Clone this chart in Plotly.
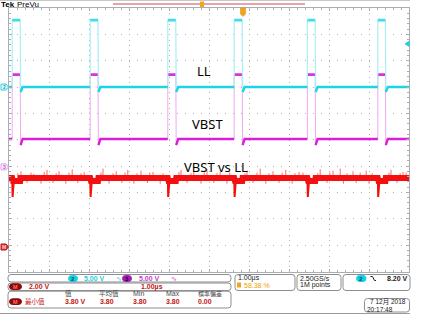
import plotly.graph_objects as go

W, H = 431, 331

pulse_start_us = [0.08, 2.03, 3.97, 5.63, 7.46, 9.22]
pulse_width_us = [0.20, 0.195, 0.20, 0.20, 0.195, 0.19]

ll_low_v, ll_high_v, ll_under_v = 0.0, 12.7, -0.95
vbst_low_v, vbst_high_v, vbst_under_v = 5.3, 17.5, 4.15
math_base_v, math_pulse_v, math_dip_v = 5.24, 5.0, 3.8

math_spike_t = [0.22, 0.3, 0.45, 0.55, 0.62, 0.8, 0.88, 0.95, 1.1, 1.18, 1.25, 1.42, 1.5, 1.58,
                1.72, 1.8, 1.88, 2.3, 2.35, 2.5, 2.6, 2.68, 2.82, 2.9, 2.97, 3.12, 3.2, 3.3,
                3.46, 3.52, 3.6, 3.78, 3.85, 4.25, 4.3, 4.45, 4.55, 4.62, 4.8, 4.88, 4.95,
                5.12, 5.2, 5.28, 5.45, 5.52, 5.9, 5.95, 6.1, 6.2, 6.28, 6.42, 6.5, 6.6, 6.75,
                6.83, 6.92, 7.08, 7.15, 7.25, 7.35, 7.72, 7.78, 7.95, 8.02, 8.1, 8.28, 8.36,
                8.45, 8.6, 8.68, 8.78, 8.93, 9.0, 9.08, 9.5, 9.55, 9.7, 9.78, 9.85, 9.93]
math_spike_v = [5.6, 5.75, 4.85, 5.65, 5.55, 4.8, 5.7, 5.85, 4.85, 5.6, 5.75, 4.8, 5.65, 5.9,
                4.85, 5.6, 5.7, 5.65, 5.95, 4.8, 5.6, 5.75, 4.85, 5.65, 5.85, 4.8, 5.6, 5.8,
                4.85, 5.65, 5.7, 4.8, 5.6, 5.7, 5.85, 4.85, 5.6, 5.75, 4.8, 5.65, 5.9,
                4.85, 5.6, 5.7, 4.8, 5.65, 5.6, 5.8, 4.85, 5.65, 5.95, 4.8, 5.6, 5.75, 4.85,
                5.65, 5.85, 4.8, 5.6, 5.7, 5.65, 5.6, 5.9, 4.85, 5.65, 5.8, 5.95, 4.8,
                5.6, 5.75, 4.85, 5.65, 5.8, 4.8, 5.6, 5.65, 5.85, 4.85, 5.6, 5.7, 5.65]

# channel settings shown by the scope: (position in divisions, volts per division)
ch_ll = (7.0, 5.0)
ch_vbst = (3.97, 5.0)
ch_math = (0.93, 2.0)
trigger_v = 8.20

labels = ["LL", "VBST", "VBST vs LL"]


def to_div(v, ch):
    return ch[0] + v / ch[1]


def X(px):
    return px / W


def Y(py):
    return 1 - py / H


def pulse_parts(low, high, under, ch):
    base_x, base_y, top_x, top_y, edge_x, edge_y = [], [], [], [], [], []
    prev = 0.0
    prev_under = False
    for s, w in zip(pulse_start_us, pulse_width_us):
        if prev_under:
            base_x += [prev, prev + 0.05, s, None]
            base_y += [to_div(under, ch), to_div(low, ch), to_div(low, ch), None]
        else:
            base_x += [prev, s, None]
            base_y += [to_div(low, ch), to_div(low, ch), None]
        top_x += [s, s + w, None]
        top_y += [to_div(high, ch), to_div(high, ch), None]
        edge_x += [s, s, None, s + w, s + w + 0.01, None]
        edge_y += [to_div(low, ch), to_div(high, ch), None, to_div(high, ch), to_div(under, ch), None]
        prev = s + w + 0.01
        prev_under = True
    base_x += [prev, prev + 0.05, 10]
    base_y += [to_div(under, ch), to_div(low, ch), to_div(low, ch)]
    return base_x, base_y, top_x, top_y, edge_x, edge_y


fig = go.Figure()

# ---- math trace (red) ----
bx, by = [0.0], [to_div(math_base_v, ch_math)]
dx, dy = [], []
for s, w in zip(pulse_start_us, pulse_width_us):
    bx += [s, s + 0.02, s + w, s + w + 0.01]
    by += [to_div(math_base_v, ch_math), to_div(math_pulse_v, ch_math),
           to_div(math_pulse_v, ch_math), to_div(math_base_v, ch_math)]
    dx += [s, s + 0.01, s + 0.04, None]
    dy += [to_div(math_base_v, ch_math), to_div(math_dip_v, ch_math), to_div(math_pulse_v, ch_math), None]
bx += [10]
by += [to_div(math_base_v, ch_math)]
sx, sy = [], []
for t, v in zip(math_spike_t, math_spike_v):
    sx += [t, t, None]
    sy += [to_div(math_base_v, ch_math), to_div(v, ch_math), None]

fig.add_trace(go.Scatter(x=sx, y=sy, mode="lines", line=dict(color="#ff6a6a", width=1)))
fig.add_trace(go.Scatter(x=bx, y=by, mode="lines", line=dict(color="#f41010", width=6)))
fig.add_trace(go.Scatter(x=dx, y=dy, mode="lines", line=dict(color="#f41010", width=2)))

# ---- VBST (magenta) ----
b_x, b_y, t_x, t_y, e_x, e_y = pulse_parts(vbst_low_v, vbst_high_v, vbst_under_v, ch_vbst)
fig.add_trace(go.Scatter(x=e_x, y=e_y, mode="lines", line=dict(color="#f3a8ef", width=1)))
fig.add_trace(go.Scatter(x=b_x, y=b_y, mode="lines", line=dict(color="#d81fd8", width=2.4)))
fig.add_trace(go.Scatter(x=t_x, y=t_y, mode="lines", line=dict(color="#dc30dc", width=2.6)))

# ---- LL (cyan) ----
b_x, b_y, t_x, t_y, e_x, e_y = pulse_parts(ll_low_v, ll_high_v, ll_under_v, ch_ll)
fig.add_trace(go.Scatter(x=e_x, y=e_y, mode="lines", line=dict(color="#a8f0f6", width=1.2)))
fig.add_trace(go.Scatter(x=b_x, y=b_y, mode="lines", line=dict(color="#1cd4e4", width=2.4)))
fig.add_trace(go.Scatter(x=t_x, y=t_y, mode="lines", line=dict(color="#40dcea", width=2.6)))

for tr in fig.data:
    tr.showlegend = False
    tr.hoverinfo = "skip"

grat = "#a9aeb6"
gridc = "#b0b0b0"

fig.update_layout(
    width=W, height=H, margin=dict(l=0, r=0, t=0, b=0),
    paper_bgcolor="white", plot_bgcolor="white",
    xaxis=dict(domain=[X(9), X(409)], range=[0, 10], dtick=1, tick0=0,
               showgrid=True, gridcolor=gridc, griddash="1px,4.27px", gridwidth=1,
               zeroline=False, showline=True, linecolor=grat, linewidth=1, mirror="allticks",
               ticks="inside", ticklen=3, tickcolor=grat, showticklabels=False,
               minor=dict(dtick=0.2, ticks="inside", ticklen=2, tickcolor=grat, showgrid=False),
               fixedrange=True),
    yaxis=dict(domain=[Y(271.5), Y(8)], range=[0, 10], dtick=1, tick0=0,
               showgrid=True, gridcolor=gridc, griddash="1px,7px", gridwidth=1,
               zeroline=False, showline=True, linecolor=grat, linewidth=1, mirror="allticks",
               ticks="inside", ticklen=3, tickcolor=grat, showticklabels=False,
               minor=dict(dtick=0.2, ticks="inside", ticklen=2, tickcolor=grat, showgrid=False),
               fixedrange=True),
    hovermode=False,
)

shapes = []
ann = []


def T(x, y, s, size=7, color="#000", anchor="left", family="Liberation Sans", bold=False):
    ann.append(dict(x=X(x), y=Y(y), xref="paper", yref="paper", text=(f"<b>{s}</b>" if bold else s),
                    showarrow=False, xanchor=anchor, yanchor="middle", borderpad=0,
                    font=dict(size=size, color=color, family=family)))


def rrect(x0, y0, x1, y1, r, line="#8e8e8e", fill=None, width=1):
    p = (f"M {X(x0 + r)},{Y(y0)} L {X(x1 - r)},{Y(y0)} Q {X(x1)},{Y(y0)} {X(x1)},{Y(y0 + r)} "
         f"L {X(x1)},{Y(y1 - r)} Q {X(x1)},{Y(y1)} {X(x1 - r)},{Y(y1)} "
         f"L {X(x0 + r)},{Y(y1)} Q {X(x0)},{Y(y1)} {X(x0)},{Y(y1 - r)} "
         f"L {X(x0)},{Y(y0 + r)} Q {X(x0)},{Y(y0)} {X(x0 + r)},{Y(y0)} Z")
    shapes.append(dict(type="path", path=p, xref="paper", yref="paper",
                       line=dict(color=line, width=width), fillcolor=fill or "rgba(0,0,0,0)"))


def pline(pts, color, width=1):
    p = "M " + " L ".join(f"{X(a)},{Y(b)}" for a, b in pts)
    shapes.append(dict(type="path", path=p, xref="paper", yref="paper", line=dict(color=color, width=width)))


# header
T(0, 4.5, "Tek", size=8, color="#000", bold=True)
T(15.5, 4.5, "PreVu", size=8, color="#000")
pline([(0, 0.5), (410, 0.5)], "#c8c8c8")
pline([(113, 4), (305, 4)], "#e8a4a4", width=2)
shapes.append(dict(type="rect", xref="paper", yref="paper", x0=X(200), x1=X(204), y0=Y(7), y1=Y(1.5),
                   fillcolor="#f2a51c", line=dict(width=0)))
# trigger position marker
p = f"M {X(240.5)},{Y(8)} L {X(245.5)},{Y(8)} L {X(245.5)},{Y(14)} L {X(243)},{Y(16.5)} L {X(240.5)},{Y(14)} Z"
shapes.append(dict(type="path", path=p, xref="paper", yref="paper", fillcolor="#f2a51c",
                   line=dict(color="#d88a00", width=0.5)))

# trace labels
T(204, 71, labels[0], size=13, family="Noto Sans", anchor="center")
T(207.5, 124, labels[1], size=13, family="Noto Sans", anchor="center")
T(215.5, 167.5, labels[2], size=13, family="Noto Sans", anchor="center")

# ground markers on the left
for ch, txt, lc, fc, tc in [(ch_ll, "2", "#30d0e0", "#e8fbfd", "#10a0b0"),
                            (ch_vbst, "3", "#e0a0e8", "#fbeefc", "#c050c8"),
                            (ch_math, "M", "#b01818", "#d83030", "#ffd0d0")]:
    yc = 271.5 - ch[0] * 26.35
    p = (f"M {X(1)},{Y(yc - 3)} L {X(6)},{Y(yc - 3)} L {X(8.5)},{Y(yc)} L {X(6)},{Y(yc + 3)} "
         f"L {X(1)},{Y(yc + 3)} Z")
    shapes.append(dict(type="path", path=p, xref="paper", yref="paper", fillcolor=fc,
                       line=dict(color=lc, width=1)))
    T(4.2, yc, txt, size=5, color=tc, anchor="center", bold=True)

# trigger level marker on right
yt = 271.5 - to_div(trigger_v, ch_ll) * 26.35
p = f"M {X(409)},{Y(yt - 2.5)} L {X(409)},{Y(yt + 2.5)} L {X(405)},{Y(yt)} Z"
shapes.append(dict(type="path", path=p, xref="paper", yref="paper", fillcolor="#20d0e0",
                   line=dict(color="#20d0e0", width=1)))

# ---------- bottom panel ----------
box = "#8e8e8e"
rrect(8, 274.5, 231, 282, 3, box)
rrect(8, 283, 231, 290.5, 3, box)
rrect(8, 291.2, 231, 308, 3, box)
rrect(235, 274.5, 295, 290.5, 3, box)
rrect(297, 274.5, 341, 290.5, 3, box)
rrect(343, 274.5, 410, 290.5, 3, box)
rrect(364.5, 298.5, 409.5, 312, 3, box)
pline([(0, 313.5), (410, 313.5)], "#9a9a9a")

cyan_t = "#22cfe0"
purp_t = "#c23ccf"
red_t = "#c41414"
cjk = "Liberation Sans, Noto Sans CJK SC"

# row 1
rrect(68.5, 275.5, 77.5, 281.5, 3, "#18d0e4", "#18d0e4")
T(73, 278.6, "2", size=6, color="#07485a", anchor="center", bold=True)
T(83, 278.4, "5.00 V", size=7, color=cyan_t, bold=True)
T(114.5, 278.4, "∿", size=7, color=cyan_t)
rrect(122.5, 275.5, 131.5, 281.5, 3, "#a11fb2", "#a11fb2")
T(127, 278.6, "3", size=6, color="#2a0030", anchor="center", bold=True)
T(138, 278.4, "5.00 V", size=7, color=purp_t, bold=True)
T(169.5, 278.4, "∿", size=7, color=purp_t)

# row 2
rrect(9.5, 283.8, 21.5, 289.5, 3, "#8c0a0a", "#8c0a0a")
T(15.5, 286.8, "M", size=5.5, color="#ff7070", anchor="center", bold=True)
T(28, 286.8, "2.00 V", size=7, color=red_t, bold=True)
T(140, 286.8, "1.00µs", size=7, color=red_t, bold=True)

# row 3 measurement table
hdr = "#4a4a4a"
T(64, 293.8, "值", size=6.5, color=hdr, family=cjk)
T(98, 293.8, "平均值", size=6.5, color=hdr, family=cjk)
T(131.5, 293.8, "Min", size=7, color=hdr)
T(165, 293.8, "Max", size=7, color=hdr)
T(197, 293.8, "標準偏差", size=6, color=hdr, family="Liberation Sans, Noto Sans CJK TC")
rrect(9.5, 298.8, 21.5, 304.5, 3, "#8c0a0a", "#8c0a0a")
T(15.5, 301.8, "M", size=5.5, color="#ff7070", anchor="center", bold=True)
T(23.5, 301.6, "最小值", size=6.5, color=red_t, family=cjk)
T(64, 301.2, "3.80 V", size=7, color=red_t, bold=True)
T(99, 301.2, "3.80", size=7, color=red_t, bold=True)
T(132, 301.2, "3.80", size=7, color=red_t, bold=True)
T(165, 301.2, "3.80", size=7, color=red_t, bold=True)
T(197, 301.2, "0.00", size=7, color=red_t, bold=True)

# horizontal box
T(237, 278.2, "1.00µs", size=7, color="#1a1a1a")
shapes.append(dict(type="rect", xref="paper", yref="paper", x0=X(237), x1=X(241), y0=Y(287.5), y1=Y(282.5),
                   fillcolor="#f2a51c", line=dict(width=0)))
T(242.5, 285.2, "58.38 %", size=7, color="#f0a000")

# acquisition box
T(298.5, 278.2, "2.50GS/s", size=7, color="#1a1a1a")
T(298.5, 285.2, "1M points", size=7, color="#1a1a1a")

# trigger box
rrect(356.5, 275.5, 366, 281.5, 3, "#18d0e4", "#18d0e4")
T(361.2, 278.6, "2", size=6, color="#07485a", anchor="center", bold=True)
pline([(370.5, 276.5), (372.5, 276.5), (374.5, 280.5), (376, 280.5)], "#222", 1)
T(386, 278.4, "8.20 V", size=7, color="#222", bold=True)

# date box
T(406.5, 302.4, "7 12月 2018", size=6.5, color="#222", anchor="right", family=cjk)
T(366, 309.0, "20:17:48", size=6.5, color="#222")

fig.update_layout(shapes=shapes, annotations=ann)
fig.write_html("out.html", config={"displayModeBar": False, "staticPlot": True})
